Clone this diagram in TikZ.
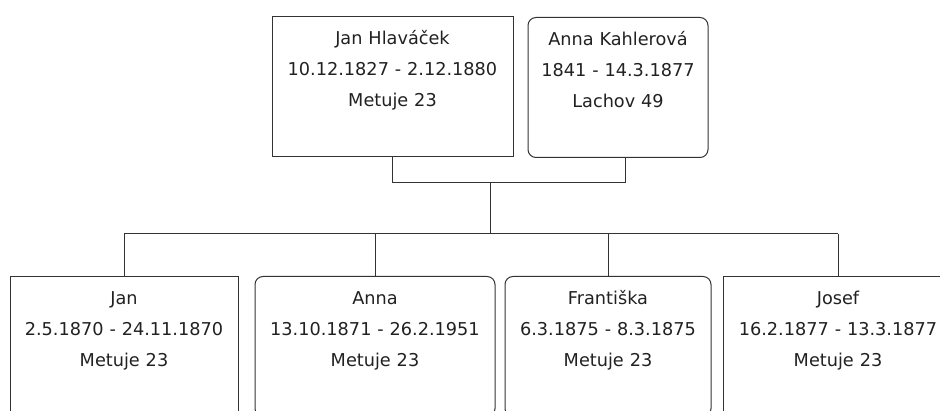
\documentclass[tikz,border=0pt]{standalone}
\usepackage{fontspec}
\setmainfont{DejaVu Sans}
\usepackage{xcolor}
\usepackage{tikz}
\definecolor{linegray}{rgb}{0.2, 0.2, 0.2}
\definecolor{textgray}{rgb}{0.13, 0.13, 0.13}

\begin{document}
\begin{tikzpicture}[x=1pt, y=-1pt, line width=1pt, draw=linegray,
	person/.style={draw=linegray, anchor=north, align=center, text width=#1, inner xsep=0pt, inner ysep=14pt, text height=14pt, text depth=98pt, text=textgray, font=\fontsize{17.7}{31}\selectfont},
	roundperson/.style={person=#1, rounded corners=8pt}]
			\useasboundingbox (0,0) rectangle (940,411);
			\clip (0,0) rectangle (940,411);
			\node[person=241pt] (father) at (392.5,16) {Jan Hlaváček\\10.12.1827 - 2.12.1880\\Metuje 23};
			\node[roundperson=180pt] (mother) at (618,17) {Anna Kahlerová\\1841 - 14.3.1877\\Lachov 49};
			
			\node[person=228pt] (jan) at (124,276) {Jan\\2.5.1870 - 24.11.1870\\Metuje 23};
			\node[roundperson=240pt] (anna) at (375,276) {Anna\\13.10.1871 - 26.2.1951\\Metuje 23};
			\node[roundperson=206pt] (frantiska) at (608,276) {Františka\\6.3.1875 - 8.3.1875\\Metuje 23};
			\node[person=230pt] (josef) at (838,276) {Josef\\16.2.1877 - 13.3.1877\\Metuje 23};
			
			\coordinate (wed) at (490,183);
			\coordinate (kids) at (490,234);
			\coordinate (mjoin) at ([xshift=7pt]mother.south);
			
			\draw[linegray] (father.south) -- (father.south |- wed) -- (mjoin |- wed) -- (mjoin);
			\draw[linegray] (wed) -- (kids);
			\draw[linegray] (jan.north |- kids) -- (josef.north |- kids);
			\foreach \child in {jan, anna, frantiska, josef}
				\draw[linegray] (\child.north) -- (\child.north |- kids);
			
\end{tikzpicture}
\end{document}
